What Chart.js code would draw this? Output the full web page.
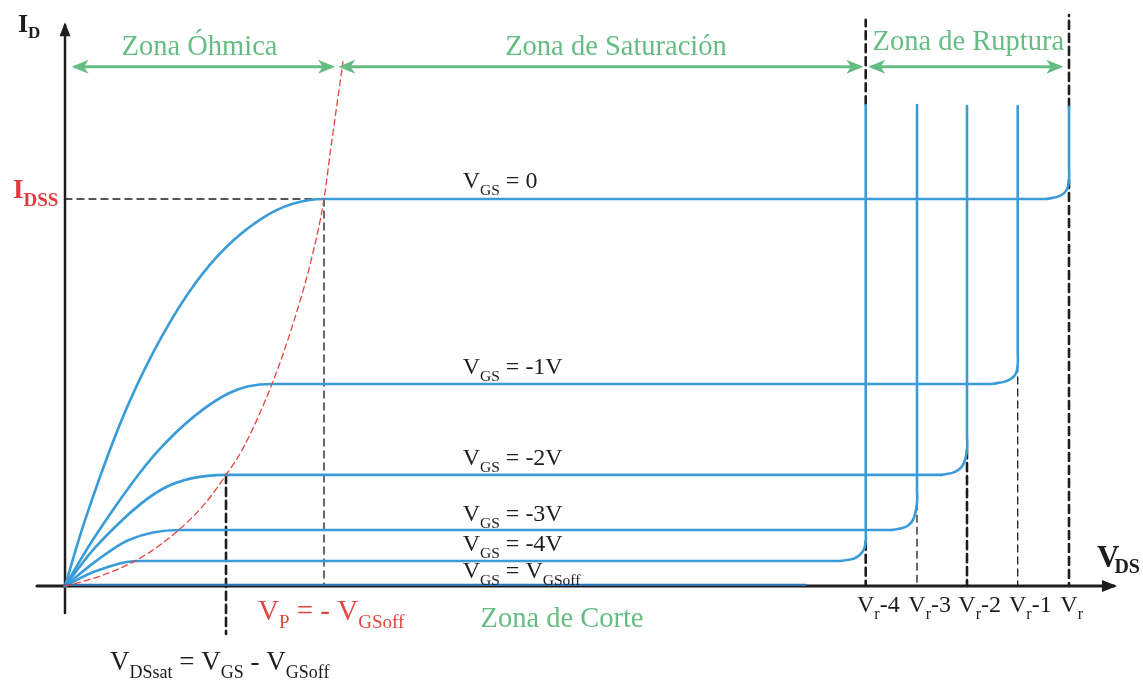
<!DOCTYPE html>
<html>
<head>
<meta charset="utf-8">
<script src="https://cdn.jsdelivr.net/npm/chart.js@4.4.0/dist/chart.umd.min.js"></script>
<style>
  html, body { margin: 0; padding: 0; background: #fff; }
  #wrap { width: 1143px; height: 681px; }
</style>
</head>
<body>
<div id="wrap"><canvas id="chart" width="1143" height="681"></canvas></div>
<script>
// values
// x = V_DS (arbitrary units, V_r = 100.4), y = I_D (I_DSS = 10)
var vgsNames = ['0', '-1V', '-2V', '-3V', '-4V'];
var satX = [25.9, 20.7, 16.1, 11.37, 7.37];
var satY = [10, 5.22, 2.87, 1.447, 0.646];

// ohmic part + saturation plateau of each V_GS curve
var ohm0X = [0, 2.0, 6.53, 13.03, 19.7, 25.9, 98.17];
var ohm0Y = [0, 1.7, 4.81, 7.82, 9.50, 10, 10];
var ohm1X = [0, 3.0, 9.37, 16.37, 20.7, 92.67];
var ohm1Y = [0, 1.28, 3.51, 4.98, 5.22, 5.22];
var ohm2X = [0, 3.03, 9.7, 16.1, 87.67];
var ohm2Y = [0, 1.0, 2.5, 2.87, 2.87];
var ohm3X = [0, 3.03, 6.37, 11.37, 82.67];
var ohm3Y = [0, 0.63, 1.19, 1.447, 1.447];
var ohm4X = [0, 3.03, 7.37, 77.5];
var ohm4Y = [0, 0.38, 0.646, 0.646];

// breakdown knee + vertical rise
var brk0X = [98.17, 99.5, 100.15, 100.4, 100.4, 100.4];
var brk0Y = [10, 10.08, 10.23, 10.49, 10.9, 12.38];
var brk1X = [92.67, 94.2, 95.0, 95.27, 95.27, 95.27];
var brk1Y = [5.22, 5.30, 5.45, 5.71, 6.1, 12.40];
var brk2X = [87.67, 89.0, 89.8, 90.2, 90.2, 90.2];
var brk2Y = [2.87, 2.95, 3.13, 3.51, 3.9, 12.40];
var brk3X = [82.67, 84.0, 84.8, 85.2, 85.2, 85.2];
var brk3Y = [1.447, 1.52, 1.71, 2.14, 2.5, 12.43];
var brk4X = [77.5, 79.0, 79.8, 80.07, 80.07, 80.07];
var brk4Y = [0.646, 0.72, 0.90, 1.145, 1.5, 12.43];

// V_GS = V_GSoff line (cut-off)
var offX = [0, 74.1];
var offY = [0.03, 0.03];

// pinch-off locus (red dashed)
var locusX = [0, 1.37, 4.7, 8.03, 11.37, 14.03, 16.1, 17.7, 20.7, 23.03, 24.7, 25.9, 26.55, 27.2, 27.8];
var locusY = [0, 0.085, 0.37, 0.80, 1.447, 2.14, 2.87, 3.51, 5.22, 6.96, 8.51, 10, 11.25, 12.45, 13.55];

// breakdown voltages V_r-4 .. V_r
var vrNames = ['-4', '-3', '-2', '-1', ''];
var vrX = [80.07, 85.2, 90.2, 95.27, 100.4];
var vrTop = [1.145, 2.14, 3.51, 5.71, 10.49];

// zone arrows (x from, x to) at one height
var zoneNames = ['Zona Óhmica', 'Zona de Saturación', 'Zona de Ruptura'];
var zoneFrom = [0.97, 27.63, 80.63];
var zoneTo = [26.7, 79.53, 99.53];
var zoneY = 13.42;

var BLUE = '#3a9bd9';
var GREEN = '#66bd83';
var RED = '#e4453e';
var INK = '#1e1c1d';
var SERIF = '"Liberation Serif", "Times New Roman", serif';

function pts(xs, ys) {
  return xs.map(function (x, i) { return { x: x, y: ys[i] }; });
}
function seg(x1, y1, x2, y2) {
  return [{ x: x1, y: y1 }, { x: x2, y: y2 }];
}

var layers = [];

// dashed guides
function guide(data, thick) {
  layers.push({
    data: data, borderColor: INK,
    borderWidth: thick ? 2.6 : 1.3,
    borderDash: thick ? [8, 5] : [7, 5]
  });
}
guide(seg(0, satY[0], satX[0], satY[0]), false);
guide(seg(satX[0], satY[0], satX[0], 0), false);
guide(seg(satX[2], satY[2], satX[2], -1.24), true);
vrX.forEach(function (x, i) {
  guide(seg(x, vrTop[i], x, 0), i % 2 === 0);
});
guide(seg(vrX[0], 12.45, vrX[0], 14.63), true);
guide(seg(vrX[4], 12.38, vrX[4], 14.75), true);

// axes
layers.push({ data: seg(0, -0.7, 0, 14.49), borderColor: INK, borderWidth: 2.5,
  heads: [{ at: 'end', len: 14, half: 5.5, notch: 1, ext: 3 }] });
layers.push({ data: seg(-2.8, 0, 104.9, 0), borderColor: INK, borderWidth: 3,
  heads: [{ at: 'end', len: 15, half: 6, notch: 1, ext: 3 }] });

// characteristic curves
[[ohm0X, ohm0Y], [ohm1X, ohm1Y], [ohm2X, ohm2Y], [ohm3X, ohm3Y], [ohm4X, ohm4Y]].forEach(function (c) {
  layers.push({ data: pts(c[0], c[1]), borderColor: BLUE, borderWidth: 2.6,
    cubicInterpolationMode: 'monotone' });
});
[[brk0X, brk0Y], [brk1X, brk1Y], [brk2X, brk2Y], [brk3X, brk3Y], [brk4X, brk4Y]].forEach(function (c) {
  layers.push({ data: pts(c[0], c[1]), borderColor: BLUE, borderWidth: 2.6, tension: 0.35 });
});
layers.push({ data: pts(offX, offY), borderColor: '#2c73b2', borderWidth: 2.4 });

// pinch-off locus
layers.push({ data: pts(locusX, locusY), borderColor: RED, borderWidth: 1.3,
  borderDash: [6, 4], cubicInterpolationMode: 'monotone' });

// zone arrows
zoneFrom.forEach(function (x, i) {
  layers.push({ data: seg(x, zoneY, zoneTo[i], zoneY), borderColor: GREEN, borderWidth: 3,
    borderCapStyle: 'butt',
    heads: [{ at: 'start', len: 17, half: 7, notch: 0.72, ext: 3 },
            { at: 'end', len: 17, half: 7, notch: 0.72, ext: 3 }] });
});

layers.forEach(function (ds, i) {
  ds.showLine = true;
  ds.pointRadius = 0;
  ds.fill = false;
  ds.order = layers.length - i; // later layers on top
});

// text labels (x, y in data units; baseline). run = [text, subscript, x shift px]
var notes = [
  { x: -4.7, y: 14.32, runs: [['I', 0], ['D', 1]], size: 26, sub: 17, drop: 6, bold: true, color: INK },
  { x: -5.2, y: 10.03, runs: [['I', 0], ['DSS', 1]], size: 27, sub: 19, drop: 8, bold: true, color: '#e2383f' },
  { x: 103.2, y: 0.49, runs: [['V', 0], ['DS', 1, -5]], size: 31, sub: 20, drop: 6, bold: true, color: INK },
  { x: 13.45, y: 13.72, runs: [[zoneNames[0], 0]], size: 28.5, align: 'center', color: GREEN },
  { x: 55.1, y: 13.72, runs: [[zoneNames[1], 0]], size: 28.5, align: 'center', color: GREEN },
  { x: 90.33, y: 13.85, runs: [[zoneNames[2], 0]], size: 28.5, align: 'center', color: GREEN },
  { x: 49.7, y: -1.06, runs: [['Zona de Corte', 0]], size: 28.5, align: 'center', color: GREEN },
  { x: 19.3, y: -0.88, runs: [['V', 0], ['P', 1], [' = - V', 0], ['GSoff', 1]], size: 29, sub: 19, drop: 8, color: RED },
  { x: 4.5, y: -2.17, runs: [['V', 0], ['DSsat', 1], [' = V', 0], ['GS', 1], [' - V', 0], ['GSoff', 1]], size: 27, sub: 18, drop: 8, color: INK }
];
var vgsLabelY = [10.28, 5.48, 3.13, 1.69, 0.90];
vgsNames.forEach(function (n, i) {
  notes.push({ x: 39.77, y: vgsLabelY[i], runs: [['V', 0], ['GS', 1], [' = ' + n, 0]],
    size: 24, sub: 15.5, drop: 7, color: INK });
});
notes.push({ x: 39.77, y: 0.20, runs: [['V', 0], ['GS', 1], [' = V', 0], ['GSoff', 1]],
  size: 24, sub: 15.5, drop: 7, color: INK });
vrNames.forEach(function (n, i) {
  notes.push({ x: vrX[i], y: -0.672, runs: [['V', 0], ['r', 1], [n, 0]],
    size: 24, sub: 16, drop: 7, align: 'first', color: INK });
});

function drawHead(ctx, a, b, h, color) {
  var ang = Math.atan2(a.y - b.y, a.x - b.x);
  ctx.save();
  ctx.translate(a.x, a.y);
  ctx.rotate(ang);
  ctx.translate(h.ext || 0, 0);
  ctx.beginPath();
  ctx.moveTo(0, 0);
  ctx.lineTo(-h.len, -h.half);
  ctx.lineTo(-h.len * h.notch, 0);
  ctx.lineTo(-h.len, h.half);
  ctx.closePath();
  ctx.fillStyle = color;
  ctx.fill();
  ctx.restore();
}

function drawNote(ctx, n, xs, ys) {
  var px = xs.getPixelForValue(n.x);
  var py = ys.getPixelForValue(n.y);
  var w = n.bold ? 'bold ' : '';
  var widths = n.runs.map(function (r) {
    ctx.font = w + (r[1] ? n.sub : n.size) + 'px ' + SERIF;
    return ctx.measureText(r[0]).width + (r[2] || 0);
  });
  var total = widths.reduce(function (a, b) { return a + b; }, 0);
  if (n.align === 'center') px -= total / 2;
  if (n.align === 'first') px -= widths[0] / 2;
  ctx.fillStyle = n.color;
  ctx.textAlign = 'left';
  ctx.textBaseline = 'alphabetic';
  n.runs.forEach(function (r, i) {
    ctx.font = w + (r[1] ? n.sub : n.size) + 'px ' + SERIF;
    ctx.fillText(r[0], px + (r[2] || 0), py + (r[1] ? n.drop : 0));
    px += widths[i];
  });
}

var annotate = {
  id: 'annotate',
  afterDatasetsDraw: function (chart) {
    var ctx = chart.ctx;
    chart.data.datasets.forEach(function (ds, i) {
      if (!ds.heads) return;
      var p = chart.getDatasetMeta(i).data;
      ds.heads.forEach(function (h) {
        if (h.at === 'start') drawHead(ctx, p[0], p[1], h, ds.borderColor);
        else drawHead(ctx, p[p.length - 1], p[p.length - 2], h, ds.borderColor);
      });
    });
    ctx.save();
    notes.forEach(function (n) { drawNote(ctx, n, chart.scales.x, chart.scales.y); });
    ctx.restore();
  }
};

new Chart(document.getElementById('chart'), {
  type: 'scatter',
  data: { datasets: layers },
  options: {
    responsive: false,
    animation: false,
    events: [],
    layout: { padding: 0 },
    plugins: { legend: { display: false }, tooltip: { enabled: false } },
    elements: { line: { borderCapStyle: 'round' } },
    scales: {
      x: { type: 'linear', display: false, min: -6.5, max: 107.8 },
      y: { type: 'linear', display: false, min: -2.455, max: 15.142 }
    }
  },
  plugins: [annotate]
});
</script>
</body>
</html>
